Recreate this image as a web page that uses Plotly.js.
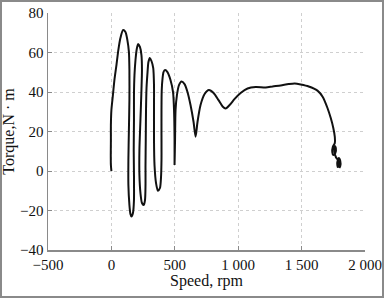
<!DOCTYPE html>
<html>
<head>
<meta charset="utf-8">
<script src="https://cdn.plot.ly/plotly-3.0.1.min.js"></script>
<style>
  html, body { margin: 0; padding: 0; background: #fff; }
  #wrap { position: relative; width: 384px; height: 298px; }
  #plot { width: 384px; height: 298px; }
  #frame { position: absolute; left: 0; top: 0; width: 384px; height: 298px; box-sizing: border-box; border: 2px solid #8a8a8a; pointer-events: none; }
</style>
</head>
<body>
<div id="wrap"><div id="plot"></div><div id="frame"></div></div>
<script>
// Speed (rpm)
const speed = [
  0, -4, -5, -4, -4, 0, 12, 24, 40, 55, 71, 92, 111, 126, 138, 142, 142, 138, 134, 134,
  142, 150, 158, 170, 178, 178, 176, 178, 178, 182, 190, 200, 211, 225, 237, 241, 237, 229,
  221, 221, 229, 241, 255, 265, 269, 269, 271, 273, 277, 285, 292, 303, 316, 330, 336, 336,
  336, 340, 352, 367, 383, 391, 395, 395, 395, 397, 403, 411, 423, 442, 466, 486, 494, 498,
  498, 502, 506, 517, 533, 553, 577, 600, 624, 648, 664, 679, 703, 735, 769, 806, 845, 877,
  901, 932, 972, 1019, 1074, 1138, 1217, 1272, 1335, 1398, 1446, 1493, 1556, 1625, 1667,
  1704, 1730, 1750, 1762, 1762, 1746, 1742, 1750, 1766, 1770, 1762, 1758, 1770, 1785, 1793,
  1785, 1781, 1793, 1805, 1805, 1797
];
// Torque (N·m)
const torque = [
  0, 3.0, 8.1, 15.7, 23.3, 30.9, 38.5, 46.1, 53.7, 61.3, 67.3, 71.4, 70.4, 66.3, 60.3, 51.1,
  35.9, 20.8, 5.6, -7.1, -17.2, -21.8, -23.1, -21.3, -14.7, -2.0, 10.6, 25.8, 38.5, 48.6,
  56.2, 61.8, 64.3, 62.8, 58.7, 51.1, 41.0, 25.8, 10.6, -2.0, -11.1, -16.2, -17.2, -14.7,
  -7.1, 3.0, 15.7, 30.9, 42.0, 50.1, 55.2, 57.2, 55.7, 52.1, 43.5, 30.9, 15.7, 3.0, -6.1,
  -10.0, -8.6, -3.5, 5.6, 18.2, 30.9, 41.0, 46.6, 50.1, 51.1, 50.1, 46.1, 40.0, 30.9, 15.7,
  3.0, 15.7, 30.9, 38.5, 43.5, 45.3, 44.0, 40.0, 33.4, 24.8, 17.4, 24.8, 33.4, 39.0, 41.0,
  39.5, 35.9, 32.7, 31.7, 33.4, 36.5, 39.5, 41.8, 42.5, 42.3, 42.8, 43.3, 44.0, 44.3, 43.8,
  42.8, 40.7, 37.5, 31.9, 26.8, 21.8, 17.2, 14.2, 12.2, 9.6, 8.1, 9.1, 11.6, 12.7, 10.1, 7.1,
  5.6, 3.5, 2.0, 4.1, 6.6, 5.1, 2.5, 1.5
];
const xTickVals = [-500, 0, 500, 1000, 1500, 2000];
const xTickText = ['\u2212500', '0', '500', '1 000', '1 500', '2 000'];
const yTickVals = [-40, -20, 0, 20, 40, 60, 80];
const yTickText = ['\u221240', '\u221220', '0', '20', '40', '60', '80'];

const fontFam = '"Liberation Serif", "Times New Roman", serif';

const trace = {
  x: speed, y: torque, type: 'scatter', mode: 'lines',
  line: { color: '#111', width: 2, shape: 'spline', smoothing: 0.7 },
  hoverinfo: 'skip'
};

const axisCommon = {
  showgrid: true, gridcolor: '#cfcfcf', griddash: 'dot', gridwidth: 1,
  zeroline: false, showline: true, linecolor: '#8a8a8a', linewidth: 1.5,
  ticks: 'inside', ticklen: 4, tickcolor: '#8a8a8a',
  tickfont: { family: fontFam, size: 15, color: '#111' }
};

const layout = {
  width: 384, height: 298,
  margin: { l: 48, r: 19, t: 13, b: 48 },
  paper_bgcolor: '#fff', plot_bgcolor: '#fff',
  showlegend: false,
  font: { family: fontFam, color: '#111' },
  xaxis: Object.assign({}, axisCommon, {
    range: [-500, 2000], tickmode: 'array', tickvals: xTickVals, ticktext: xTickText,
    title: { text: 'Speed, rpm', font: { family: fontFam, size: 16, color: '#111' }, standoff: 3 }
  }),
  yaxis: Object.assign({}, axisCommon, {
    range: [-40, 80], tickmode: 'array', tickvals: yTickVals, ticktext: yTickText,
    title: { text: 'Torque,N \u00b7 m', font: { family: fontFam, size: 16, color: '#111' }, standoff: 6 }
  })
};

Plotly.newPlot('plot', [trace], layout, { staticPlot: true, displayModeBar: false });
</script>
</body>
</html>
